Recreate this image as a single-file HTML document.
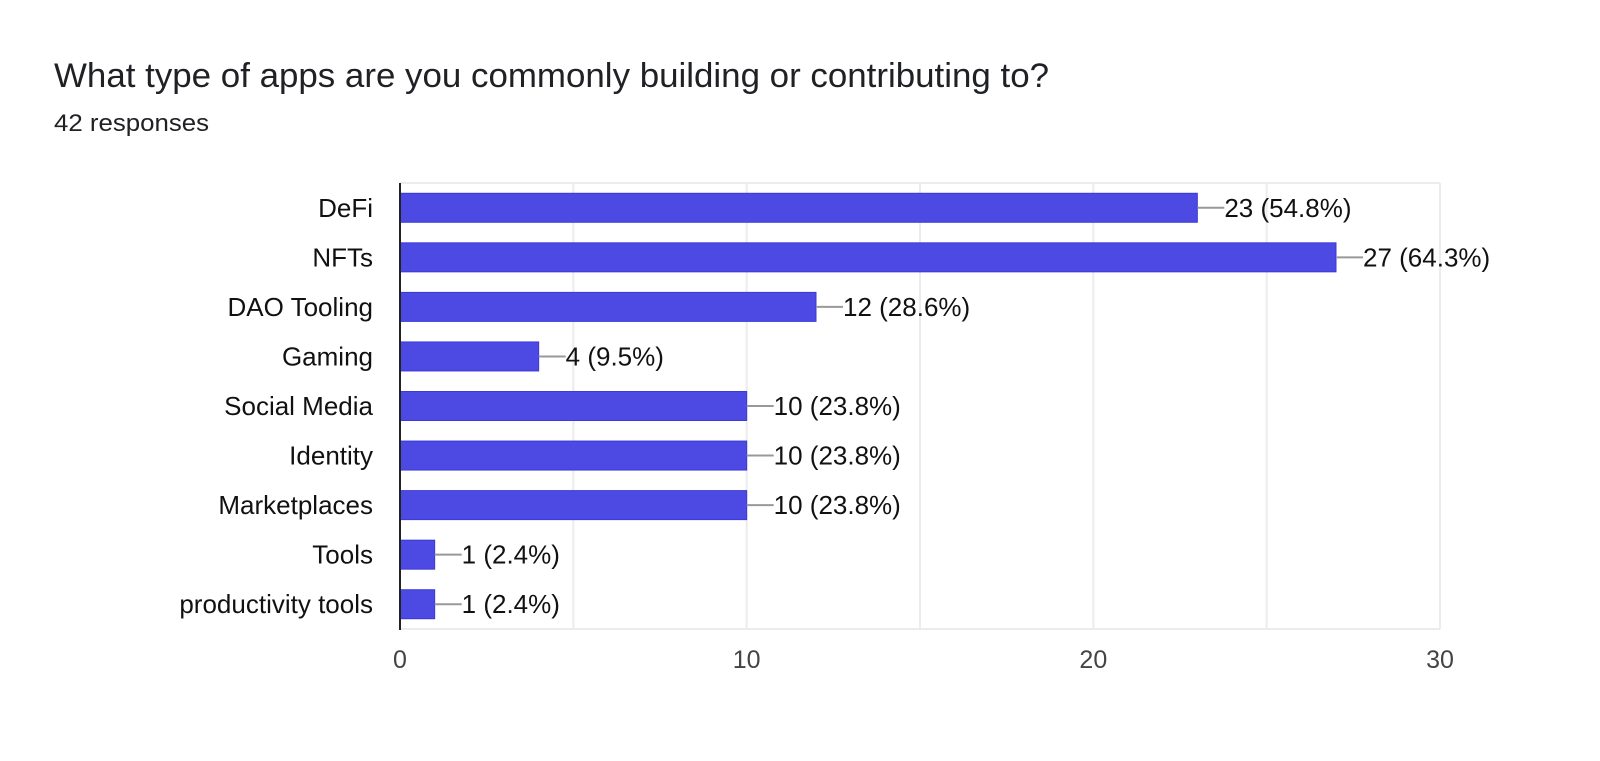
<!DOCTYPE html>
<html><head><meta charset="utf-8">
<style>
html,body{margin:0;padding:0;background:#fff;}
svg{display:block;font-family:"Liberation Sans",Arial,sans-serif;}
</style></head>
<body>
<svg id="chart" width="1600" height="761" viewBox="0 0 1600 761" xmlns="http://www.w3.org/2000/svg">
<text x="54" y="87" font-size="34" fill="#202124" textLength="995" lengthAdjust="spacingAndGlyphs">What type of apps are you commonly building or contributing to?</text>
<text x="54" y="131" font-size="24" fill="#202124" textLength="155" lengthAdjust="spacingAndGlyphs">42 responses</text>
<g id="grid"></g>
<g id="bars"></g>
<g id="labels"></g>
</svg>
<script>
const categories = ["DeFi","NFTs","DAO Tooling","Gaming","Social Media","Identity","Marketplaces","Tools","productivity tools"];
const counts = [23,27,12,4,10,10,10,1,1];
const percents = ["54.8%","64.3%","28.6%","9.5%","23.8%","23.8%","23.8%","2.4%","2.4%"];
const xTicks = [0,10,20,30];
const gridValues = [0,5,10,15,20,25,30];

const NS = "http://www.w3.org/2000/svg";
const plotX0 = 400, plotX1 = 1440, xMax = 30, plotTop = 183, plotBottom = 629;
const band = (plotBottom - plotTop) / categories.length;
const barH = 29;
const xScale = v => plotX0 + (v / xMax) * (plotX1 - plotX0);
const yBand = i => plotTop + band * i + band / 2;
function mk(tag, attrs, parent){ const e = document.createElementNS(NS, tag); for (const k in attrs) e.setAttribute(k, attrs[k]); parent.appendChild(e); return e; }

const grid = document.getElementById('grid');
gridValues.forEach(v => {
  const l = mk('line', {x1: xScale(v), x2: xScale(v), y1: plotTop, y2: plotBottom, stroke: '#ececec', 'stroke-width': 2}, grid);
  
  
});
const tb = mk('line', {x1: plotX0, x2: plotX1, y1: plotTop, y2: plotTop, stroke: '#ececec', 'stroke-width': 2}, grid);


const bb = mk('line', {x1: plotX0, x2: plotX1, y1: plotBottom, y2: plotBottom, stroke: '#ececec', 'stroke-width': 2}, grid);



xTicks.forEach(v => {
  const t = mk('text', {x: xScale(v), y: 668, 'font-size': 25, fill: '#444', 'text-anchor': 'middle'}, grid);
  t.textContent = v;
  
  
});

const bars = document.getElementById('bars');
const labels = document.getElementById('labels');
categories.forEach((c, i) => {
  const cy = yBand(i);
  const r = mk('rect', {x: plotX0, y: cy - barH / 2, width: xScale(counts[i]) - plotX0, height: barH, fill: '#4c4ae3', stroke: '#3c3ad8', 'stroke-width': 1}, bars);
  
  
  const cl = mk('text', {x: 373, y: cy + 9, 'font-size': 26, fill: '#111', 'text-anchor': 'end'}, labels);
  cl.textContent = c;
  
  
  const xe = xScale(counts[i]);
  const ld = mk('line', {x1: xe, x2: xe + 27, y1: cy, y2: cy, stroke: '#999', 'stroke-width': 2}, labels);
  
  
  const vl = mk('text', {x: xe + 27, y: cy + 9, 'font-size': 26, fill: '#111'}, labels);
  vl.textContent = counts[i] + ' (' + percents[i] + ')';
  
  
});
const ax = mk('line', {x1: plotX0, x2: plotX0, y1: plotTop, y2: plotBottom + 1, stroke: '#222', 'stroke-width': 2}, labels);


</script>
</body></html>
